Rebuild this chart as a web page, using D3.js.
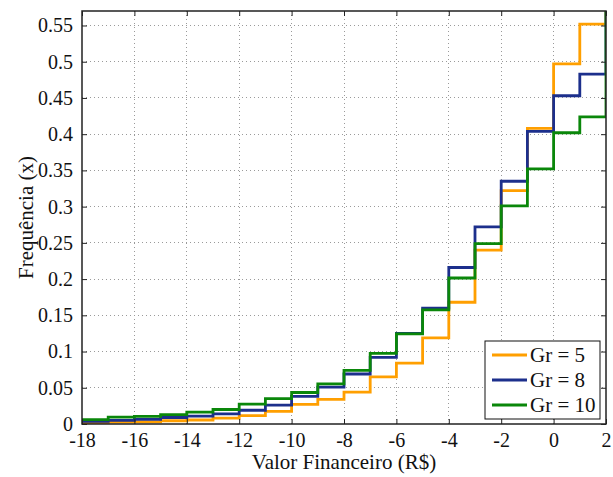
<!DOCTYPE html>
<html>
<head>
<meta charset="utf-8">
<script src="https://cdn.jsdelivr.net/npm/d3@7"></script>
<style>
  html, body { margin: 0; padding: 0; background: #fff; }
</style>
</head>
<body>
<svg id="chart" width="613" height="477"></svg>
<script>
// Stair edges (R$) and cumulative frequency per group
const xEdges = [-18, -17, -16, -15, -14, -13, -12, -11, -10, -9, -8, -7, -6, -5, -4, -3, -2, -1, 0, 1, 2];
const gr5  = [0.001, 0.0025, 0.003, 0.0045, 0.0055, 0.008, 0.0115, 0.0175, 0.027, 0.034, 0.044, 0.065, 0.084, 0.119, 0.168, 0.240, 0.322, 0.408, 0.497, 0.552, 1.0];
const gr8  = [0.0035, 0.005, 0.0065, 0.009, 0.011, 0.014, 0.019, 0.026, 0.038, 0.051, 0.069, 0.092, 0.125, 0.160, 0.216, 0.272, 0.335, 0.404, 0.453, 0.483, 1.0];
const gr10 = [0.006, 0.0095, 0.0105, 0.013, 0.0165, 0.020, 0.0275, 0.035, 0.0435, 0.0555, 0.074, 0.0975, 0.1245, 0.1575, 0.2015, 0.249, 0.301, 0.352, 0.402, 0.424, 1.0];
const seriesNames = ["Gr = 5", "Gr = 8", "Gr = 10"];
const seriesColors = ["#ff9f00", "#1c2f8c", "#0a870a"];
const xTicks = [-18, -16, -14, -12, -10, -8, -6, -4, -2, 0, 2];
const yTicks = [0, 0.05, 0.1, 0.15, 0.2, 0.25, 0.3, 0.35, 0.4, 0.45, 0.5, 0.55];
const yTickLabels = ["0", "0.05", "0.1", "0.15", "0.2", "0.25", "0.3", "0.35", "0.4", "0.45", "0.5", "0.55"];

const FONT = "'Liberation Serif', 'Times New Roman', serif";
const TICK_FS = "20px", LABEL_FS = "21px";
const pL = 82, pR = 606, pT = 11, pB = 424;
const W = pR - pL, H = pB - pT;

const svg = d3.select("#chart");
const x = d3.scaleLinear().domain([-18, 2]).range([pL, pR]);
const y = d3.scaleLinear().domain([0, 0.57]).range([pB, pT]);

// dotted grid
const grid = svg.append("g").attr("class", "grid");
grid.selectAll("line.gx").data(xTicks.slice(1, -1)).enter().append("line")
  .attr("x1", d => x(d)).attr("x2", d => x(d)).attr("y1", pT).attr("y2", pB);
grid.selectAll("line.gy").data(yTicks.slice(1)).enter().append("line")
  .attr("x1", pL).attr("x2", pR).attr("y1", d => y(d)).attr("y2", d => y(d));
grid.selectAll("line").attr("stroke", "#9a9a9a").attr("stroke-width", 1)
  .attr("stroke-dasharray", "1,3").attr("shape-rendering", "crispEdges");

// clip for the data lines
svg.append("defs").append("clipPath").attr("id", "plotclip")
  .append("rect").attr("x", pL).attr("y", pT).attr("width", W).attr("height", H);

const stairs = d3.line().x(d => x(d[0])).y(d => y(d[1])).curve(d3.curveStepAfter);
const allSeries = [gr5, gr8, gr10];
const lines = svg.append("g").attr("clip-path", "url(#plotclip)");
allSeries.forEach((vals, i) => {
  lines.append("path")
    .datum(xEdges.map((xv, j) => [xv, vals[j]]))
    .attr("d", stairs)
    .attr("fill", "none")
    .attr("stroke", seriesColors[i])
    .attr("stroke-width", 2.8)
    .attr("stroke-linejoin", "miter");
});

// axes with inward ticks on all four sides
const fmtY = d => yTickLabels[yTicks.indexOf(d)];
const axB = svg.append("g").attr("transform", `translate(0,${pB})`)
  .call(d3.axisBottom(x).tickValues(xTicks).tickSize(-5).tickPadding(12).tickFormat(d => String(d)));
const axT = svg.append("g").attr("transform", `translate(0,${pT})`)
  .call(d3.axisTop(x).tickValues(xTicks).tickSize(-5).tickFormat(""));
const axL = svg.append("g").attr("transform", `translate(${pL},0)`)
  .call(d3.axisLeft(y).tickValues(yTicks).tickSize(-5).tickPadding(9).tickFormat(fmtY));
const axR = svg.append("g").attr("transform", `translate(${pR},0)`)
  .call(d3.axisRight(y).tickValues(yTicks).tickSize(-5).tickFormat(""));

[axB, axT, axL, axR].forEach(a => {
  a.select(".domain").remove();
  a.selectAll(".tick line").attr("stroke", "#222").attr("stroke-width", 1);
  a.selectAll("text").style("font-family", FONT).style("font-size", TICK_FS).attr("fill", "#111");
});
axB.selectAll("text").attr("dy", "0.55em");

// frame
svg.append("rect").attr("x", pL).attr("y", pT).attr("width", W).attr("height", H)
  .attr("fill", "none").attr("stroke", "#222").attr("stroke-width", 1.5);

// axis titles
svg.append("text").attr("x", (pL + pR) / 2).attr("y", 469)
  .attr("text-anchor", "middle").style("font-family", FONT).style("font-size", LABEL_FS).attr("fill", "#111")
  .text("Valor Financeiro (R$)");
svg.append("text").attr("transform", `translate(33,${(pT + pB) / 2}) rotate(-90)`)
  .attr("text-anchor", "middle").style("font-family", FONT).style("font-size", LABEL_FS).attr("fill", "#111")
  .text("Frequência (x)");

// legend
const lg = svg.append("g");
lg.append("rect").attr("x", 485).attr("y", 341).attr("width", 115).attr("height", 78)
  .attr("fill", "#fff").attr("stroke", "#111").attr("stroke-width", 1);
seriesNames.forEach((name, i) => {
  const cy = 355 + i * 25;
  lg.append("line").attr("x1", 492).attr("x2", 527).attr("y1", cy).attr("y2", cy)
    .attr("stroke", seriesColors[i]).attr("stroke-width", 2.8);
  lg.append("text").attr("x", 530).attr("y", cy).attr("dy", "0.35em")
    .style("font-family", FONT).style("font-size", LABEL_FS).attr("fill", "#111").text(name);
});
</script>
</body>
</html>
